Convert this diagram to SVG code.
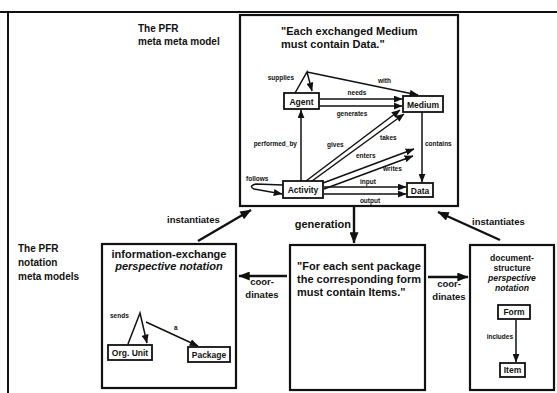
<svg xmlns="http://www.w3.org/2000/svg" width="557" height="393" viewBox="0 0 557 393">
<style>
text{font-family:"Liberation Sans",Arial,sans-serif;font-weight:bold;fill:#111}
.frame{fill:none;stroke:#111;stroke-width:2}
.box{fill:#fff;stroke:#111;stroke-width:2.2}
.node{fill:#fff;stroke:#111;stroke-width:1.8}
.c{fill:none;stroke:#111;stroke-width:1.5}
.ct{fill:none;stroke:#111;stroke-width:2.4}
.title{font-size:10px}
.q{font-size:11px}
.n{font-size:8.5px}
.l{font-size:6.5px}
.big{font-size:9.5px}
.ds{font-size:8.6px}
.it{font-style:italic}
</style>
<defs>
<marker id="ah" viewBox="0 0 10 8" refX="9.5" refY="4" markerWidth="9" markerHeight="7" markerUnits="userSpaceOnUse" orient="auto">
<path d="M0,0 L10,4 L0,8 z" fill="#111"/>
</marker>
<marker id="ahb" viewBox="0 0 10 8" refX="9.5" refY="4" markerWidth="12" markerHeight="9" markerUnits="userSpaceOnUse" orient="auto">
<path d="M0,0 L10,4 L0,8 z" fill="#111"/>
</marker>
</defs>
<rect width="557" height="393" fill="#fff"/>
<g id="frame">
<line class="frame" x1="0" y1="12" x2="557" y2="12"/>
<line class="frame" x1="8" y1="12" x2="8" y2="393"/>
</g>
<g id="labels">
<text class="title" x="138" y="32">The PFR</text>
<text class="title" x="138" y="45">meta meta model</text>
<text class="title" x="18" y="252">The PFR</text>
<text class="title" x="18" y="266">notation</text>
<text class="title" x="18" y="280">meta models</text>
</g>
<g id="meta-meta-model">
<rect class="box" x="240" y="15" width="218" height="191"/>
<text class="q" x="281" y="35">"Each exchanged Medium</text>
<text class="q" x="281" y="48">must contain Data."</text>
</g>
<g id="agent"><rect class="node" x="284" y="93" width="35" height="16"/><text class="n" x="301.5" y="104.5" text-anchor="middle">Agent</text></g>
<g id="medium"><rect class="node" x="403" y="96" width="40" height="16"/><text class="n" x="423" y="107.5" text-anchor="middle">Medium</text></g>
<g id="activity"><rect class="node" x="283" y="181" width="40" height="17"/><text class="n" x="303" y="192.5" text-anchor="middle">Activity</text></g>
<g id="data"><rect class="node" x="407" y="183" width="26" height="14"/><text class="n" x="420" y="193.5" text-anchor="middle">Data</text></g>
<g id="information-exchange">
<rect class="box" x="102" y="244" width="134" height="144"/>
<text class="q" x="169" y="258" text-anchor="middle">information-exchange</text>
<text class="q it" x="169" y="270" text-anchor="middle">perspective notation</text>
</g>
<g id="org-unit"><rect class="node" x="108" y="345" width="44" height="15"/><text class="n" x="130" y="355.5" text-anchor="middle">Org. Unit</text></g>
<g id="package"><rect class="node" x="188" y="347" width="42" height="15"/><text class="n" x="209" y="357.5" text-anchor="middle">Package</text></g>
<g id="rule">
<rect class="box" x="290" y="245" width="135" height="145"/>
<text class="q" x="297" y="270" font-size="10.5">"For each sent package</text>
<text class="q" x="297" y="283" font-size="10.5">the corresponding form</text>
<text class="q" x="297" y="296" font-size="10.5">must contain Items."</text>
</g>
<g id="document-structure">
<rect class="box" x="470" y="245" width="84" height="145"/>
<text class="ds" x="512" y="261" text-anchor="middle">document-</text>
<text class="ds" x="512" y="271" text-anchor="middle">structure</text>
<text class="ds it" x="512" y="281" text-anchor="middle">perspective</text>
<text class="ds it" x="512" y="291" text-anchor="middle">notation</text>
</g>
<g id="form"><rect class="node" x="498" y="305" width="32" height="14"/><text class="n" x="514" y="315" text-anchor="middle">Form</text></g>
<g id="item"><rect class="node" x="500" y="363" width="25" height="14"/><text class="n" x="512.5" y="373" text-anchor="middle">Item</text></g>
<g id="connectors">
<path class="c" d="M295,93 L307,72 L312,91" marker-end="url(#ah)"/>
<text class="l" x="294" y="80" text-anchor="end">supplies</text>
<path class="c" d="M307,72 L418,95" marker-end="url(#ah)"/>
<text class="l" x="378" y="83">with</text>
<path class="c" d="M320,99 L402,99" marker-end="url(#ah)"/>
<text class="l" x="357" y="95" text-anchor="middle">needs</text>
<path class="c" d="M320,106 L402,106" marker-end="url(#ah)"/>
<text class="l" x="352" y="116" text-anchor="middle">generates</text>
<path class="c" d="M301,181 L301,110" marker-end="url(#ah)"/>
<text class="l" x="297" y="146" text-anchor="end">performed_by</text>
<path class="c" d="M306,181 L400,110" marker-end="url(#ah)"/>
<text class="l" x="327" y="147">gives</text>
<path class="c" d="M312,181 L404,114" marker-end="url(#ah)"/>
<text class="l" x="380" y="140">takes</text>
<path class="c" d="M323,183 L414,149" marker-end="url(#ah)"/>
<text class="l" x="356" y="158">enters</text>
<path class="c" d="M324,189 L413,156" marker-end="url(#ah)"/>
<text class="l" x="383" y="171">writes</text>
<path class="c" d="M422,112 L422,182" marker-end="url(#ah)"/>
<text class="l" x="425" y="146">contains</text>
<path class="c" d="M324,187 L406,187" marker-end="url(#ah)"/>
<text class="l" x="368" y="184" text-anchor="middle">input</text>
<path class="c" d="M324,194 L406,194" marker-end="url(#ah)"/>
<text class="l" x="370" y="203" text-anchor="middle">output</text>
<path class="c" d="M283,185 L256,184 Q248,186 254,189 L282,194" marker-end="url(#ah)"/>
<text class="l" x="246" y="181">follows</text>
<path class="ct" d="M198,241 L251,210" marker-end="url(#ahb)"/>
<text class="big" x="167" y="223">instantiates</text>
<path class="ct" d="M500,240 L438,212" marker-end="url(#ahb)"/>
<text class="big" x="472" y="225">instantiates</text>
<path class="ct" d="M354,207 L354,243" marker-end="url(#ahb)"/>
<text class="q" x="351" y="228" text-anchor="end" font-size="10">generation</text>
<path class="ct" d="M287,276 L239,276" marker-end="url(#ahb)"/>
<text class="big" x="262" y="285" text-anchor="middle">coor-</text>
<text class="big" x="262" y="298" text-anchor="middle">dinates</text>
<path class="ct" d="M428,277 L468,277" marker-end="url(#ahb)"/>
<text class="big" x="449" y="287" text-anchor="middle">coor-</text>
<text class="big" x="449" y="300" text-anchor="middle">dinates</text>
<path class="c" d="M128,344 L140,313 L147,343" marker-end="url(#ah)"/>
<text class="l" x="110" y="318">sends</text>
<path class="c" d="M146,322 L198,346" marker-end="url(#ah)"/>
<text class="l" x="174" y="330">a</text>
<path class="c" d="M516,320 L516,362" marker-end="url(#ah)"/>
<text class="l" x="513" y="339" text-anchor="end">includes</text>
</g>
</svg>
